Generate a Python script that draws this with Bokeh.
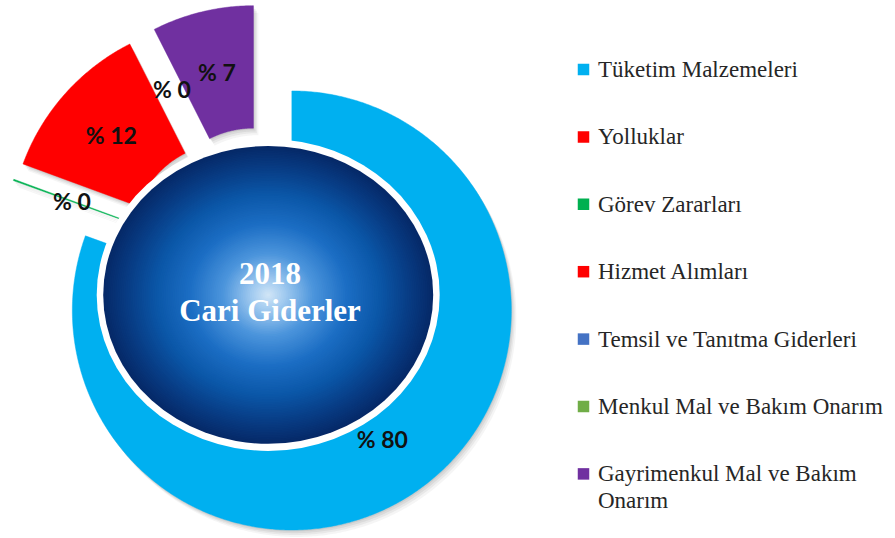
import numpy as np
from bokeh.plotting import figure
from bokeh.models import Range1d
from bokeh.core.properties import value
from bokeh.embed import file_html
from bokeh.resources import INLINE

# ---------------- data ----------------
categories = [
    "Tüketim Malzemeleri",
    "Yolluklar",
    "Görev Zararları",
    "Hizmet Alımları",
    "Temsil ve Tanıtma Giderleri",
    "Menkul Mal ve Bakım Onarım",
    "Gayrimenkul Mal ve Bakım\nOnarım",
]
shares = [80.4, 0.0, 0.1, 11.9, 0.0, 0.0, 7.45]
label_shown = [True, False, True, True, False, True, True]
colors = ["#00B0F0", "#FF0000", "#00B050", "#FF0000", "#4472C4", "#70AD47", "#7030A0"]
center_title = ["2018", "Cari Giderler"]

# ---------------- layout (page pixel coordinates, y down) ----------------
W, H = 895, 538
CX, CY = 264.0, 271.0
R_OUT, R_IN = 219.5, 97.0
EXPLODE = 47.6
LABEL_R = 157.5
HUB_X, HUB_Y = 267.7, 294.4
HUB_W, HUB_H = 330.0, 298.0
BORDER = 6.5
SERIF = value("Liberation Serif")

p = figure(width=W, height=H, x_range=Range1d(0, W), y_range=Range1d(H, 0),
           output_backend="svg", toolbar_location=None, min_border=0,
           x_axis_location=None, y_axis_location=None)
p.grid.visible = False
p.outline_line_color = None
p.background_fill_color = "white"
p.border_fill_color = "white"

total = float(sum(shares))
edges = np.concatenate([[0.0], np.cumsum(shares)]) / total * 360.0

xs, ys, fc, centers, mids = [], [], [], [], []
for i, s in enumerate(shares):
    a0, a1 = edges[i], edges[i + 1]
    mid = np.radians((a0 + a1) / 2.0)
    ex = CX + EXPLODE * np.sin(mid)
    ey = CY - EXPLODE * np.cos(mid)
    centers.append((ex, ey))
    mids.append(mid)
    if s <= 0:
        continue
    n = max(3, int((a1 - a0) * 2) + 3)
    th = np.radians(np.linspace(a0, a1, n))
    ox = ex + R_OUT * np.sin(th)
    oy = ey - R_OUT * np.cos(th)
    ix = ex + R_IN * np.sin(th[::-1])
    iy = ey - R_IN * np.cos(th[::-1])
    xs.append(list(np.concatenate([ox, ix])))
    ys.append(list(np.concatenate([oy, iy])))
    fc.append(colors[i])

# legend
LEG_X, LEG_Y0, LEG_STEP = 583.0, 69.0, 67.4
mx, my = [], []
tx, ty, tt = [], [], []
for i, name in enumerate(categories):
    yc = LEG_Y0 + i * LEG_STEP
    mx.append(LEG_X)
    my.append(yc)
    for k, line in enumerate(name.split("\n")):
        tx.append(LEG_X + 14.5)
        ty.append(yc + k * 27.0)
        tt.append(line)
p.scatter(x=mx, y=my, marker="square", size=11.5, fill_color=colors, line_color=None)
p.text(x=tx, y=ty, text=tt, text_font=SERIF, text_font_size="23px",
       text_color="#262626", text_align="left", text_baseline="middle")

# soft shadow
for dx, dy, a in [(1.0, 1.5, 0.06), (2.2, 3.2, 0.06), (3.5, 5.0, 0.05), (5.0, 7.0, 0.04)]:
    p.patches([[x + dx for x in xx] for xx in xs], [[y + dy for y in yy] for yy in ys],
              fill_color="black", fill_alpha=a, line_color=None)

p.patches(xs, ys, fill_color=fc, line_color=fc, line_width=0.8, line_alpha=0.6)

# hub: white border + radial gradient
p.ellipse(x=[HUB_X], y=[HUB_Y], width=[HUB_W + 2 * BORDER], height=[HUB_H + 2 * BORDER + 1],
          fill_color="white", line_color=None)
stops_t = [0.0, 0.1, 0.28, 0.48, 0.68, 0.86, 1.0]
stops_c = [(0xd4, 0xe7, 0xf7), (0xa4, 0xcc, 0xf0), (0x4c, 0x95, 0xdc), (0x1c, 0x6e, 0xc4),
           (0x0b, 0x57, 0xa8), (0x08, 0x3c, 0x84), (0x06, 0x29, 0x68)]
N = 90
sc = np.linspace(1.0, 1.0 / N, N)
gcols = []
for t in sc:
    rgb = [int(round(np.interp(t, stops_t, [c[k] for c in stops_c]))) for k in range(3)]
    gcols.append("#%02x%02x%02x" % tuple(rgb))
p.ellipse(x=[HUB_X] * N, y=[HUB_Y] * N, width=list(HUB_W * sc), height=list(HUB_H * sc),
          fill_color=gcols, line_color=None)

# center title
p.text(x=[269.5, 269.5], y=[272.7, 309.7], text=center_title,
       text_font=SERIF, text_font_style="bold", text_font_size="31px",
       text_color="white", text_align="center", text_baseline="middle")

# data labels
lx, ly, lt = [], [], []
for i, s in enumerate(shares):
    if not label_shown[i]:
        continue
    ex, ey = centers[i]
    lx.append(ex + LABEL_R * np.sin(mids[i]))
    ly.append(ey - LABEL_R * np.cos(mids[i]))
    lt.append("%% %d" % int(round(s)))
p.text(x=lx, y=ly, text=lt, text_font=value("Lato"), text_font_style="bold",
       text_font_size="23px", text_color="#111111", text_align="center",
       text_baseline="middle")

open("out.html", "w").write(file_html(p, INLINE))
